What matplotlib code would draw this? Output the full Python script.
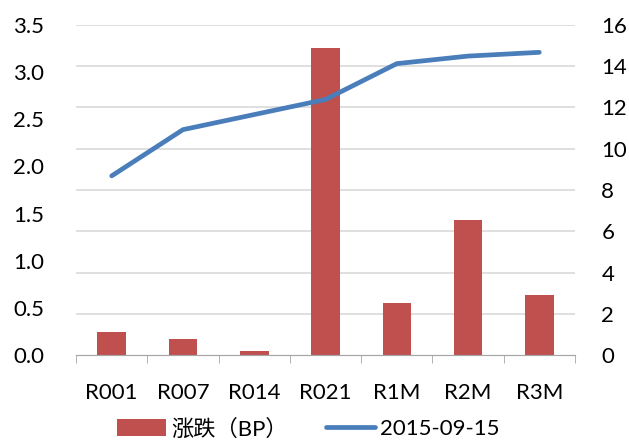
import matplotlib
matplotlib.use('Agg')
import numpy as np
import matplotlib.pyplot as plt

plt.rcParams['font.family'] = ['Lato', 'Noto Sans CJK SC', 'DejaVu Sans']

categories = ['R001', 'R007', 'R014', 'R021', 'R1M', 'R2M', 'R3M']
change_bp = [1.12, 0.78, 0.2, 14.9, 2.5, 6.55, 2.9]
rate_0915 = [1.90, 2.39, 2.55, 2.71, 3.09, 3.17, 3.21]

fig = plt.figure(figsize=(6.29, 4.46), dpi=100)
ax = fig.add_axes([0.121, 0.204, 0.793, 0.740])
ax2 = ax.twinx()

x = np.arange(len(categories))
bars = ax2.bar(x, change_bp, width=0.4, color='#C0504D', label='涨跌（BP）', zorder=2)
line, = ax.plot(x, rate_0915, color='#4A7EBB', lw=3.4, solid_capstyle='round',
                label='2015-09-15', zorder=3)

# line above bars
ax.set_zorder(ax2.get_zorder() + 1)
ax.patch.set_visible(False)

ax.set_ylim(0, 3.5)
ax.set_yticks(np.arange(0, 3.51, 0.5))
ax.set_yticklabels(['%.1f' % v for v in np.arange(0, 3.51, 0.5)])
ax2.set_ylim(0, 16)
ax2.set_yticks(range(0, 17, 2))
ax.set_xlim(-0.5, len(categories) - 0.5)

for v in range(2, 17, 2):
    ax2.axhline(v, color='#D9D9D9', lw=1.2, zorder=0)

ax.set_xticks(x)
ax.set_xticklabels(categories)
ax.set_xticks(np.arange(-0.5, len(categories), 1), minor=True)
ax.tick_params(axis='x', which='major', length=0, labelsize=16, pad=20)
ax.tick_params(axis='x', which='minor', length=6, color='#A6A6A6', direction='out')
ax.tick_params(axis='y', length=0, labelsize=16, pad=23)
ax2.tick_params(axis='y', length=0, labelsize=16, pad=19)

for a in (ax, ax2):
    for s in ('top', 'left', 'right'):
        a.spines[s].set_visible(False)
    a.spines['bottom'].set_color('#A6A6A6')

fig.legend(handles=[bars, line], loc='lower center', bbox_to_anchor=(0.49, -0.03),
           ncol=2, frameon=False, fontsize=16, handlelength=2.2, handleheight=0.75,
           columnspacing=1.7, handletextpad=0.25)

fig.savefig('out.png', dpi=100)
